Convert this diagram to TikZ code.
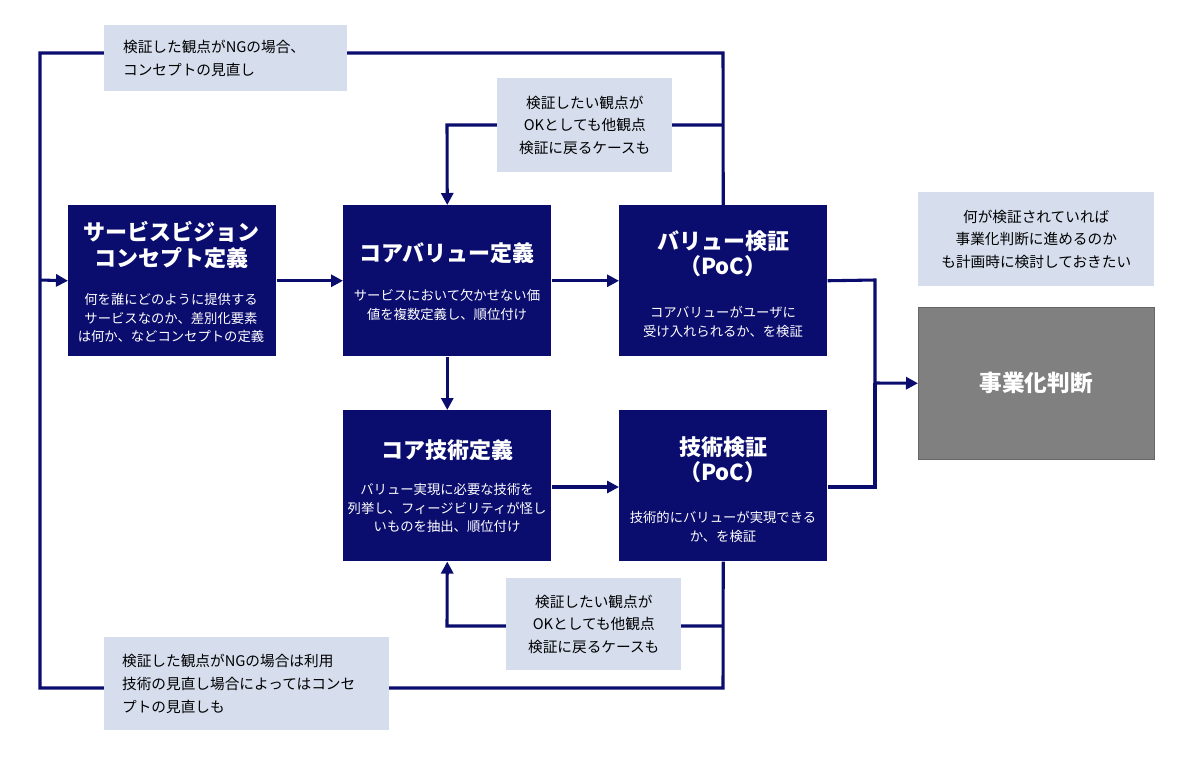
\documentclass[tikz,border=0pt]{standalone}
\usepackage{fontspec}
\setmainfont{Noto Sans CJK JP}
\usetikzlibrary{arrows.meta}
\definecolor{navy}{RGB}{10,12,110}
\definecolor{lbl}{RGB}{214,222,238}
\definecolor{gbox}{RGB}{128,128,128}
\begin{document}
\begin{tikzpicture}[x=0.75pt,y=-0.75pt,
  box/.style={draw=none,fill=navy,text=white,minimum width=156pt,minimum height=113.25pt,inner sep=0pt},
  ttl/.style={text=white,font=\bfseries\fontsize{16.5}{19}\selectfont,align=center},
  bd/.style={text=white,font=\fontsize{10}{14}\selectfont,align=center},
  lab/.style={fill=lbl,inner sep=0pt,text=black,font=\fontsize{11}{17}\selectfont,align=left,anchor=north west},
  ln/.style={draw=navy,line width=2.3pt},
  ar/.style={ln,-{Triangle[length=9pt,width=9pt]}}]
\useasboundingbox (0,0) rectangle (1200,757);
% boxes
\node[box,anchor=north west] (b1) at (68,205) {};
\node[box,anchor=north west] (b2) at (343,205) {};
\node[box,anchor=north west] (b3) at (619,205) {};
\node[box,anchor=north west] (b4) at (343,410) {};
\node[box,anchor=north west] (b5) at (619,410) {};
\node[draw=black!60,fill=gbox,minimum width=177pt,minimum height=114pt,anchor=north west,inner sep=0pt,text=white,font=\bfseries\fontsize{17}{20}\selectfont] (g) at (918,307) {事業化判断};
\node[ttl] (t1) at (171,245) {サービスビジョン\\コンセプト定義};
\node[bd] (d1) at (171,318) {何を誰にどのように提供する\\サービスなのか、差別化要素\\は何か、などコンセプトの定義};
\node[ttl] (t2) at (447,253) {コアバリュー定義};
\node[bd] (d2) at (447,305) {サービスにおいて欠かせない価\\値を複数定義し、順位付け};
\node[ttl] (t3) at (723,254) {バリュー検証\\（PoC）};
\node[bd] (d3) at (723,322) {コアバリューがユーザに\\受け入れられるか、を検証};
\node[ttl] (t4) at (447,450) {コア技術定義};
\node[bd] (d4) at (447,508) {バリュー実現に必要な技術を\\列挙し、フィージビリティが怪し\\いものを抽出、順位付け};
\node[ttl] (t5) at (723,460) {技術検証\\（PoC）};
\node[bd] (d5) at (723,527) {技術的にバリューが実現できる\\か、を検証};
% coordinates
\coordinate (tl) at (40,53); \coordinate (tr) at (723,53);
\coordinate (bl) at (40,688); \coordinate (br) at (723,688);
\coordinate (e1) at (40,280);
\coordinate (f1r) at (723,125); \coordinate (f1l) at (447,125);
\coordinate (f2r) at (723,626); \coordinate (f2l) at (447,626);
\coordinate (m1) at (875,280); \coordinate (m2) at (875,487); \coordinate (m3) at (875,383);
% connectors
\draw[ln] (b3.north) -- (tr) -- (tl) -- (bl) -- (br) -- (b5.south);
\draw[ar] (e1) -- (b1.west);
\draw[ar] (b1.east) -- (b2.west);
\draw[ar] (b2.east) -- (b3.west);
\draw[ar] (b2.south) -- (b4.north);
\draw[ar] (b4.east |- 0,487) -- (b5.west |- 0,487);
\draw[ar] (f1r) -- (f1l) -- (b2.north);
\draw[ar] (f2r) -- (f2l) -- (b4.south);
\draw[ln] (b3.east) -- (m1) -- (m3);
\draw[ln] (b5.east |- 0,487) -- (m2) -- (m3);
\draw[ar] (m3) -- (g.west);
% labels
\node[lab,minimum width=182.25pt,minimum height=49.5pt,text width=172pt] (l1) at (104,25) {\hspace*{9pt}検証した観点がNGの場合、\\\hspace*{9pt}コンセプトの見直し};
\node[lab,minimum width=131.25pt,minimum height=70.5pt,text width=131.25pt,align=center] (l2) at (497,78) {検証したい観点が\\OKとしても他観点\\検証に戻るケースも};
\node[lab,minimum width=177pt,minimum height=70.5pt,text width=177pt,align=center] (l3) at (918,192) {何が検証されていれば\\事業化判断に進めるのか\\も計画時に検討しておきたい};
\node[lab,minimum width=131.25pt,minimum height=69pt,text width=131.25pt,align=center] (l4) at (506,578) {検証したい観点が\\OKとしても他観点\\検証に戻るケースも};
\node[lab,minimum width=213.75pt,minimum height=69.75pt,text width=205pt] (l5) at (104,637) {\hspace*{9pt}検証した観点がNGの場合は利用\\\hspace*{9pt}技術の見直し場合によってはコンセ\\\hspace*{9pt}プトの見直しも};
\end{tikzpicture}
\end{document}
